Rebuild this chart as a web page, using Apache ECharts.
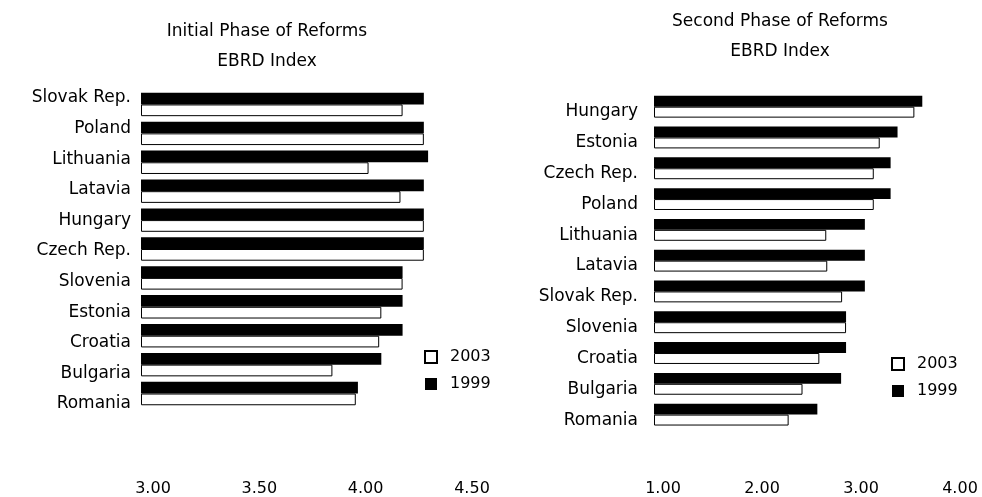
<!DOCTYPE html>
<html>
<head>
<meta charset="utf-8">
<script src="https://cdn.jsdelivr.net/npm/echarts@6/dist/echarts.min.js"></script>
<style>
  html, body { margin: 0; padding: 0; background: #fff; }
  #chart { width: 982px; height: 497px; }
</style>
</head>
<body>
<div id="chart"></div>
<script>
// 初期改革（左图）
const initialCountries = ['Slovak Rep.', 'Poland', 'Lithuania', 'Latavia', 'Hungary', 'Czech Rep.', 'Slovenia', 'Estonia', 'Croatia', 'Bulgaria', 'Romania']
const initial1999 = [4.33, 4.33, 4.35, 4.33, 4.33, 4.33, 4.23, 4.23, 4.23, 4.13, 4.02]
const initial2003 = [4.23, 4.33, 4.07, 4.22, 4.33, 4.33, 4.23, 4.13, 4.12, 3.90, 4.01]
const initialTicks = [3.00, 3.50, 4.00, 4.50]

// 第二阶段改革（右图）
const secondCountries = ['Hungary', 'Estonia', 'Czech Rep.', 'Poland', 'Lithuania', 'Latavia', 'Slovak Rep.', 'Slovenia', 'Croatia', 'Bulgaria', 'Romania']
const second1999 = [3.71, 3.46, 3.39, 3.39, 3.13, 3.13, 3.13, 2.94, 2.94, 2.89, 2.65]
const second2003 = [3.63, 3.28, 3.22, 3.22, 2.74, 2.75, 2.90, 2.94, 2.67, 2.50, 2.36]
const secondTicks = [1.00, 2.00, 3.00, 4.00]

const FONT = 'DejaVu Sans'

const chart = echarts.init(document.getElementById('chart'))

const valueAxis = (gridIndex, ticks, margin, pad) => ({
  type: 'value',
  gridIndex,
  min: ticks[0],
  max: ticks[ticks.length - 1],
  interval: ticks[1] - ticks[0],
  startValue: ticks[0],
  axisLine: { show: false },
  axisTick: { show: false },
  splitLine: { show: false },
  axisLabel: {
    margin,
    color: '#000',
    fontFamily: FONT,
    fontSize: 16,
    padding: [0, 0, 0, pad],
    formatter: (v) => v.toFixed(2)
  }
})

// 只显示国家名称的类目轴
const labelAxis = (gridIndex, data, margin) => ({
  type: 'category',
  gridIndex,
  inverse: true,
  data,
  axisLine: { show: false },
  axisTick: { show: false },
  axisLabel: { margin, color: '#000', fontFamily: FONT, fontSize: 17 }
})

const barSeries = (name, data, axisIndex, white, gap) => ({
  name,
  type: 'bar',
  xAxisIndex: axisIndex,
  yAxisIndex: axisIndex,
  data,
  clip: false,
  barGap: '0%',
  barCategoryGap: gap,
  itemStyle: white
    ? { color: '#fff', borderColor: '#000', borderWidth: 1 }
    : { color: '#000' }
})

const titleText = (x, y, text) => ({
  type: 'text',
  x,
  y,
  style: {
    text,
    fill: '#000',
    font: '17px "DejaVu Sans"',
    align: 'center',
    verticalAlign: 'middle'
  }
})

const legend = (left, top) => ({
  left,
  top,
  orient: 'vertical',
  icon: 'rect',
  data: ['2003', '1999'],
  itemWidth: 12,
  itemHeight: 12,
  itemGap: 11,
  selectedMode: false,
  textStyle: { color: '#000', fontFamily: FONT, fontSize: 16, padding: [0, 0, 0, 8] }
})

const option = {
  animation: false,
  backgroundColor: '#fff',
  graphic: [
    titleText(267, 32, 'Initial Phase of Reforms'),
    titleText(267, 62, 'EBRD Index'),
    titleText(780, 22, 'Second Phase of Reforms'),
    titleText(780, 52, 'EBRD Index')
  ],
  legend: [legend(419, 344), legend(886, 351)],
  grid: [
    { left: 141, width: 319, top: 90, height: 318 },
    { left: 141, width: 10, top: 82.7, height: 336.6 },
    { left: 654, width: 297, top: 91.3, height: 339 },
    { left: 654, width: 10, top: 96.5, height: 339 }
  ],
  xAxis: [
    valueAxis(0, initialTicks, 73, 24),
    { type: 'value', gridIndex: 1, show: false },
    valueAxis(2, secondTicks, 51, 18),
    { type: 'value', gridIndex: 3, show: false }
  ],
  yAxis: [
    { type: 'category', gridIndex: 0, inverse: true, data: initialCountries, show: false },
    labelAxis(1, initialCountries, 10),
    { type: 'category', gridIndex: 2, inverse: true, data: secondCountries, show: false },
    labelAxis(3, secondCountries, 16)
  ],
  series: [
    barSeries('1999', initial1999, 0, false, '19%'),
    barSeries('2003', initial2003, 0, true, '19%'),
    barSeries('1999', second1999, 2, false, '29%'),
    barSeries('2003', second2003, 2, true, '29%')
  ]
}

chart.setOption(option)
</script>
</body>
</html>
